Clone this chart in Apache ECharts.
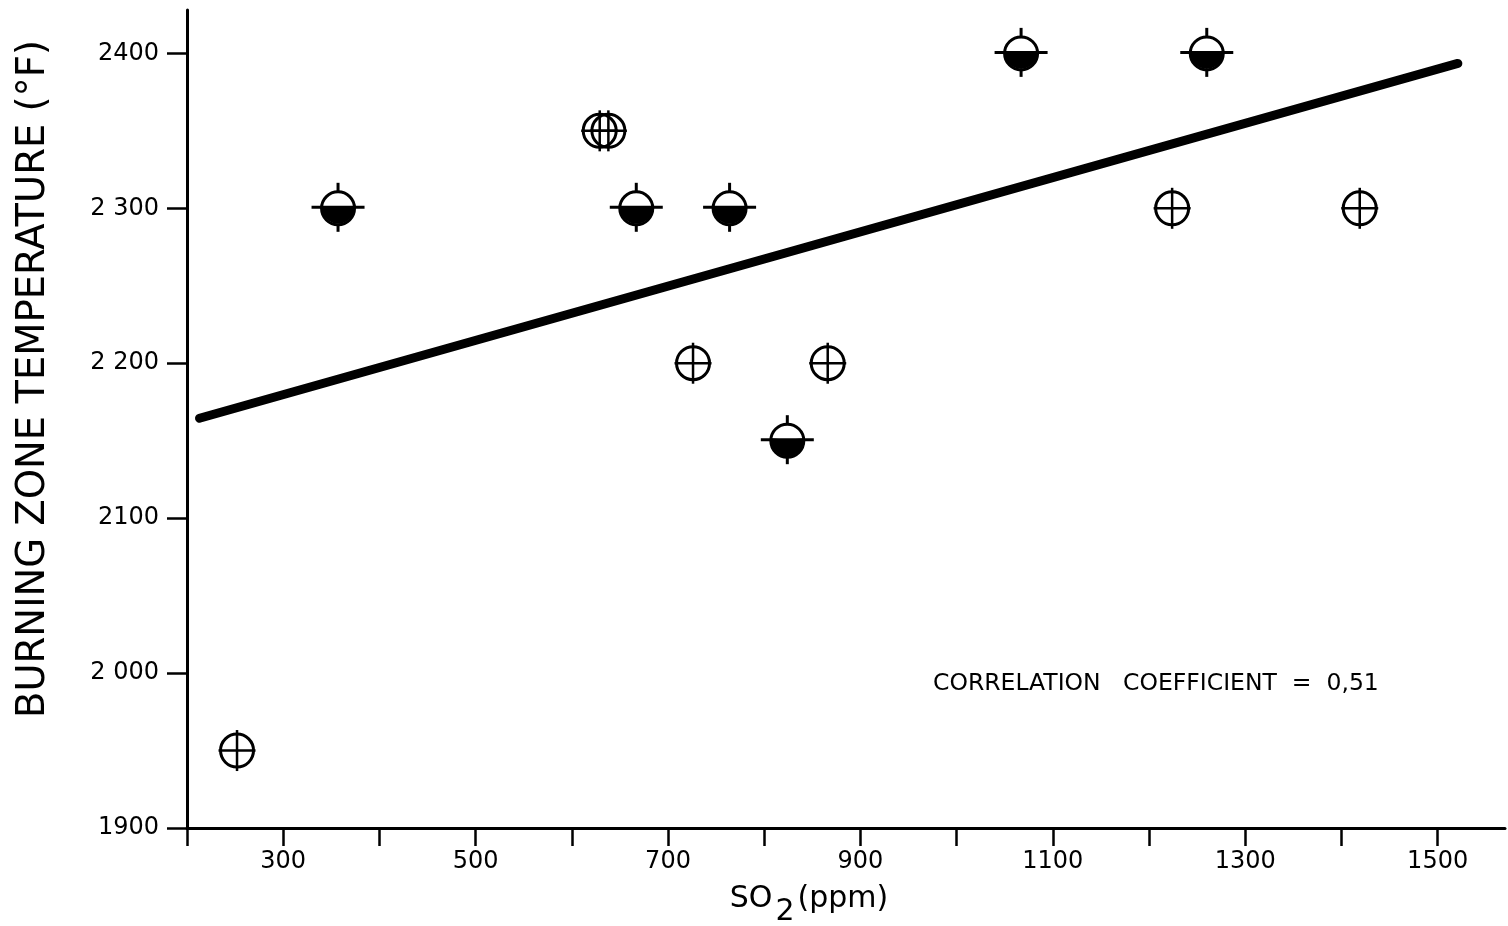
<!DOCTYPE html>
<html><head><meta charset="utf-8">
<script src="https://cdn.jsdelivr.net/npm/echarts@6/dist/echarts.min.js"></script>
<style>html,body{margin:0;padding:0;background:#fff}#c{width:1508px;height:926px}</style>
</head><body><div id="c"></div>
<script>
// open circles (crossed)
const openX = [252, 629, 638, 726, 866, 1224, 1419];
const openY = [1950, 2350, 2350, 2200, 2200, 2300, 2300];
// half-filled circles
const halfX = [357, 667, 764, 824, 1067, 1260];
const halfY = [2300, 2300, 2300, 2150, 2400, 2400];
// regression line end points
const fitX = [213, 1521];
const fitY = [2164.5, 2393.5];
// axes
const xTicks = [200, 300, 400, 500, 600, 700, 800, 900, 1000, 1100, 1200, 1300, 1400, 1500];
const xLabels = [300, 500, 700, 900, 1100, 1300, 1500];
const yTicks = [1900, 2000, 2100, 2200, 2300, 2400];
const yTickLabels = ['1900', '2 000', '2100', '2 200', '2 300', '2400'];
const xTitle = 'SO{sub|2}(ppm)';
const yTitle = 'BURNING ZONE TEMPERATURE (°F)';
const note = 'CORRELATION   COEFFICIENT  =  0,51';

const FONT = 'DejaVu Sans';
const chart = echarts.init(document.getElementById('c'), null, {renderer: 'canvas'});

function renderOpen(params, api) {
  const p = api.coord([api.value(0), api.value(1)]);
  const r = 16.5;
  return {type: 'group', children: [
    {type: 'circle', shape: {cx: p[0], cy: p[1], r: r}, style: {fill: null, stroke: '#000', lineWidth: 3}},
    {type: 'line', shape: {x1: p[0] - r - 2, y1: p[1], x2: p[0] + r + 2, y2: p[1]}, style: {stroke: '#000', lineWidth: 2.5}},
    {type: 'line', shape: {x1: p[0], y1: p[1] - r - 4, x2: p[0], y2: p[1] + r + 4}, style: {stroke: '#000', lineWidth: 2.5}}
  ]};
}
function renderHalf(params, api) {
  const p = api.coord([api.value(0), api.value(1)]);
  const r = 16.5;
  return {type: 'group', children: [
    {type: 'sector', shape: {cx: p[0], cy: p[1] - 1, r0: 0, r: r, startAngle: -0.08, endAngle: Math.PI + 0.08, clockwise: true}, style: {fill: '#000'}},
    {type: 'circle', shape: {cx: p[0], cy: p[1], r: r}, style: {fill: null, stroke: '#000', lineWidth: 3}},
    {type: 'line', shape: {x1: p[0] - r - 10, y1: p[1] - 1, x2: p[0] + r + 10, y2: p[1] - 1}, style: {stroke: '#000', lineWidth: 3}},
    {type: 'line', shape: {x1: p[0], y1: p[1] - r - 9, x2: p[0], y2: p[1] - r}, style: {stroke: '#000', lineWidth: 3}},
    {type: 'line', shape: {x1: p[0], y1: p[1] + r, x2: p[0], y2: p[1] + r + 7}, style: {stroke: '#000', lineWidth: 3}}
  ]};
}

const option = {
  animation: false,
  backgroundColor: '#fff',
  grid: {left: 187, right: 3, top: 10, bottom: 98},
  xAxis: {
    type: 'value', min: 200, max: 1570,
    axisLine: {show: true, onZero: false, lineStyle: {color: '#000', width: 3}},
    axisTick: {show: true, customValues: xTicks, length: 18, lineStyle: {color: '#000', width: 2.5}},
    axisLabel: {customValues: xLabels, color: '#000', fontSize: 24, fontFamily: FONT, margin: 22,
      formatter: v => String(v)},
    splitLine: {show: false}
  },
  yAxis: {
    type: 'value', min: 1900, max: 2428,
    axisLine: {show: true, onZero: false, lineStyle: {color: '#000', width: 3}},
    axisTick: {show: true, customValues: yTicks, length: 20, lineStyle: {color: '#000', width: 2.5}},
    axisLabel: {customValues: yTicks, color: '#000', fontSize: 24, fontFamily: FONT, margin: 28,
      formatter: v => yTickLabels[yTicks.indexOf(v)]},
    splitLine: {show: false}
  },
  graphic: [
    {type: 'text', x: 34, y: 379, rotation: Math.PI / 2,
      style: {text: yTitle, fill: '#000', font: '38.5px "' + FONT + '"', align: 'center', verticalAlign: 'middle'}},
    {type: 'text', x: 809, y: 899,
      style: {text: xTitle, fill: '#000', fontSize: 30, fontFamily: FONT, align: 'center', verticalAlign: 'middle',
        rich: {sub: {fontSize: 30, fontFamily: FONT, fill: '#000', padding: [26, 3, 0, 3]}}}},
    {type: 'text', x: 933, y: 684,
      style: {text: note, fill: '#000', fontSize: 23.5, fontFamily: FONT, align: 'left', verticalAlign: 'middle'}}
  ],
  series: [
    {type: 'line', data: fitX.map((x, i) => [x, fitY[i]]), showSymbol: false, symbol: 'none',
      lineStyle: {color: '#000', width: 9, cap: 'round'}, z: 2},
    {type: 'custom', renderItem: renderOpen, data: openX.map((x, i) => [x, openY[i]]), encode: {x: 0, y: 1}, z: 3},
    {type: 'custom', renderItem: renderHalf, data: halfX.map((x, i) => [x, halfY[i]]), encode: {x: 0, y: 1}, z: 3}
  ]
};
chart.setOption(option);
</script>
</body></html>
